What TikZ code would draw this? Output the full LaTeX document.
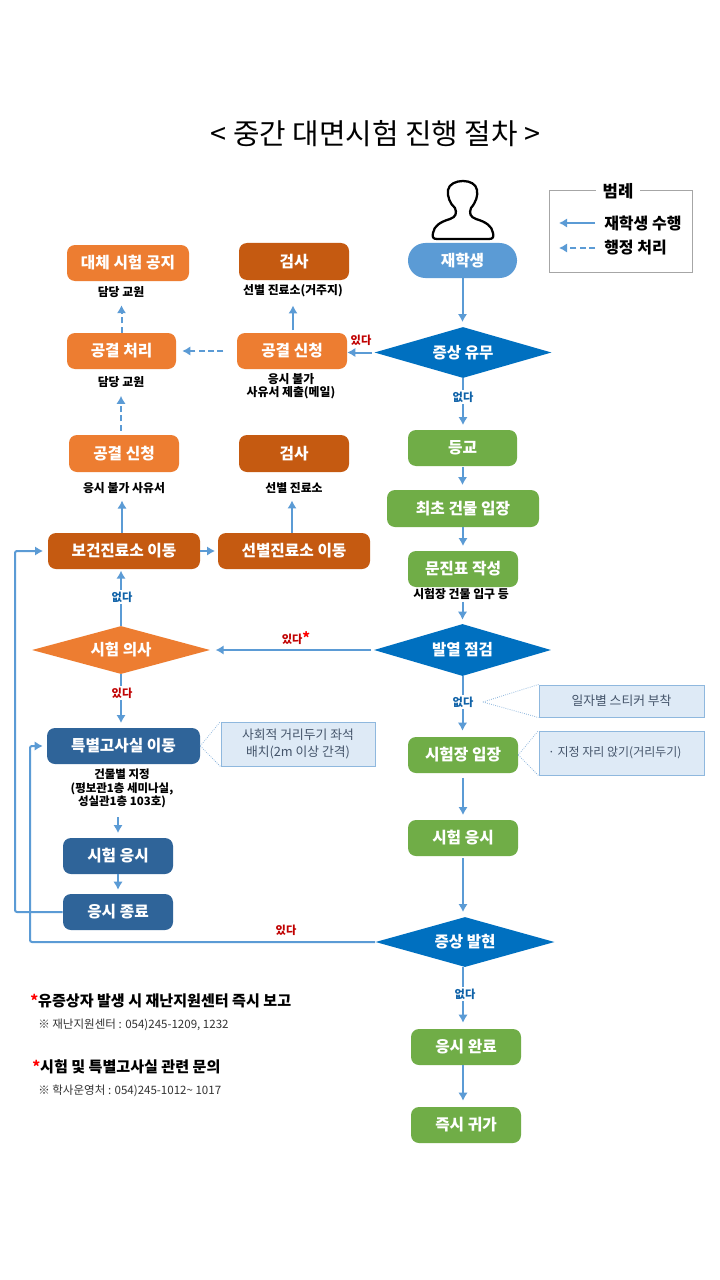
\documentclass[tikz,border=0pt]{standalone}
\usepackage{fontspec}
\setmainfont{Noto Sans CJK KR}
\usetikzlibrary{arrows.meta,shapes.geometric,calc}
\definecolor{ln}{HTML}{5B9BD5}
\definecolor{pill}{HTML}{5B9BD5}
\definecolor{dblue}{HTML}{0070C0}
\definecolor{grn}{HTML}{70AD47}
\definecolor{org}{HTML}{ED7D31}
\definecolor{brn}{HTML}{C55A11}
\definecolor{nvy}{HTML}{2F6499}
\definecolor{notefill}{HTML}{DEEAF6}
\definecolor{noteline}{HTML}{8FB8DE}
\definecolor{notetext}{HTML}{44546A}
\definecolor{yesred}{HTML}{C00000}
\definecolor{noblue}{HTML}{0F62A8}
\tikzset{
  x=0.75pt,y=-0.75pt,
  wh/.style 2 args={minimum width=#1*0.75pt,minimum height=#2*0.75pt},
  flowbox/.style={rounded corners=6pt,inner sep=0pt,text=white,font=\fontsize{11.8pt}{14pt}\selectfont\bfseries},
  gbox/.style={flowbox,fill=grn},
  obox/.style={flowbox,fill=org},
  bbox/.style={flowbox,fill=brn},
  nbox/.style={flowbox,fill=nvy},
  dia/.style={diamond,inner sep=0pt,text=white,font=\fontsize{11.7pt}{14pt}\selectfont\bfseries},
  captext/.style={inner sep=0pt,align=center,font=\fontsize{8.9pt}{10pt}\selectfont\bfseries},
  yeslab/.style={inner sep=1pt,fill=white,text=yesred,font=\fontsize{8.4pt}{10pt}\selectfont\bfseries},
  nolab/.style={inner sep=1pt,fill=white,text=noblue,font=\fontsize{8.4pt}{10pt}\selectfont\bfseries},
  notebox/.style={draw=noteline,fill=notefill,line width=0.75pt,inner sep=0pt,align=center,text=notetext,font=\fontsize{9.6pt}{12.5pt}\selectfont},
  arr/.style={draw=ln,line width=1.5pt,-{Latex[length=6pt,width=7pt]}},
  dsh/.style={arr,dash pattern=on 4.5pt off 2.5pt},
  callline/.style={draw=noteline,line width=0.6pt,densely dotted},
}
\begin{document}
\begin{tikzpicture}
\useasboundingbox (0,0) rectangle (720,1280);
\fill[white] (0,0) rectangle (720,1280);

% title
\node[inner sep=0pt,font=\fontsize{21.6pt}{25pt}\selectfont] (title) at (375.5,134) {< 중간 대면시험 진행 절차 >};

% legend
\node[draw=black!35,line width=0.75pt,minimum width=107.25pt,minimum height=60.75pt,inner sep=0pt] (legend) at (620.5,231.5) {};
\node[fill=white,inner xsep=5pt,inner ysep=0pt,font=\fontsize{12.5pt}{14pt}\selectfont\bfseries] (legendt) at (618,191) {범례};
\node[inner sep=0pt,anchor=west,font=\fontsize{12pt}{13pt}\selectfont\bfseries] (legenda) at (604,223) {재학생 수행};
\node[inner sep=0pt,anchor=west,font=\fontsize{12pt}{13pt}\selectfont\bfseries] (legendb) at (604,248) {행정 처리};
\draw[arr] ([xshift=-6.75pt]legenda.west) -- ([xshift=-33.75pt]legenda.west);
\draw[dsh] ([xshift=-6.75pt]legendb.west) -- ([xshift=-33.75pt]legendb.west);

% person
\path[draw=black,line width=1.7pt,fill=white,line join=round] (437,239) -- (489,239)
  .. controls (493,239) and (494,237) .. (493,233)
  .. controls (492,226) and (486,222) .. (476,219)
  .. controls (470,217) and (469,213) .. (471,208)
  .. controls (476,202) and (478,196) .. (477,190)
  .. controls (476,184) and (470,181) .. (463,181)
  .. controls (456,181) and (449,184) .. (448,190)
  .. controls (447,196) and (450,204) .. (455,208)
  .. controls (457,213) and (456,217) .. (450,219)
  .. controls (440,222) and (434,226) .. (433,233)
  .. controls (432,237) and (433,239) .. (437,239) -- cycle;

% right column
\node[wh={109}{35},rounded corners=13pt,fill=pill,inner sep=0pt,text=white,font=\fontsize{11.8pt}{14pt}\selectfont\bfseries] (student) at (462.5,260.5) {재학생};
\node[dia,fill=dblue,wh={177}{51},shape aspect=3.47] (symptom) at (463,352.5) {증상 유무};
\node[gbox,wh={109}{36}] (school) at (462.5,448) {등교};
\node[gbox,wh={152}{37}] (enter) at (463,508.5) {최초 건물 입장};
\node[gbox,wh={110}{36}] (form) at (463,569) {문진표 작성};
\node[dia,fill=dblue,wh={177}{52},shape aspect=3.4] (fever) at (462.5,650) {발열 점검};
\node[gbox,wh={110}{36}] (room) at (463,755) {시험장 입장};
\node[gbox,wh={110}{36}] (exam) at (463,838) {시험 응시};
\node[dia,fill=dblue,wh={179}{50},shape aspect=3.58] (onset) at (465,942) {증상 발현};
\node[gbox,wh={110}{36}] (done) at (466,1047) {응시 완료};
\node[gbox,wh={110}{36}] (home) at (466,1125) {즉시 귀가};

% upper left
\node[obox,wh={122}{36}] (alt) at (128,263) {대체 시험 공지};
\node[bbox,wh={110}{37}] (testa) at (294,261.5) {검사};
\node[obox,wh={109}{36}] (proc) at (121.5,351) {공결 처리};
\node[obox,wh={110}{36}] (appa) at (292,351) {공결 신청};
\node[obox,wh={110}{37}] (appb) at (124,453.5) {공결 신청};
\node[bbox,wh={110}{37}] (testb) at (294,453.5) {검사};
\node[bbox,wh={152}{36}] (clinic) at (124,551) {보건진료소 이동};
\node[bbox,wh={152}{36}] (screen) at (294,551) {선별진료소 이동};
\node[dia,fill=org,wh={178}{48},shape aspect=3.7] (will) at (121,650) {시험 의사};
\node[nbox,wh={153}{36}] (special) at (123.5,746) {특별고사실 이동};
\node[nbox,wh={110}{36}] (sexam) at (118,856) {시험 응시};
\node[nbox,wh={110}{36}] (send) at (118,912) {응시 종료};

% notes
\node[notebox,wh={154}{44}] (notea) at (298,744) {사회적 거리두기 좌석\\배치(2m 이상 간격)};
\node[notebox,wh={165}{32}] (noteb) at (621.5,701) {일자별 스티커 부착};
\node[notebox,wh={165}{44},font=\fontsize{9pt}{12.5pt}\selectfont] (notec) at (621.5,753) {· 지정 자리 앉기(거리두기)\hspace*{10pt}};

% captions
\node[captext] (capa) at (121,292) {담당 교원};
\node[captext] (capb) at (293,291) {선별 진료소(거주지)};
\node[captext,font=\fontsize{8.9pt}{9.8pt}\selectfont\bfseries] (capc) at (291,386.5) {응시 불가\\사유서 제출(메일)};
\node[captext] (capd) at (121,382) {담당 교원};
\node[captext] (cape) at (124,488) {응시 불가 사유서};
\node[captext] (capf) at (294,488) {선별 진료소};
\node[captext] (capg) at (461,594) {시험장 건물 입구 등};
\node[captext,font=\fontsize{8.6pt}{10pt}\selectfont\bfseries] (caph) at (122,788.5) {건물별 지정\\(평보관1층 세미나실,\\성실관1층 103호)};

% connectors
\draw[arr,shorten >=3.5pt] (student) -- (symptom.north -| student);
\draw[arr,shorten >=3.5pt] (symptom.south) -- (school.north -| symptom.south);
\draw[arr,shorten <=0.75pt,shorten >=3.5pt] (school) -- (enter.north -| school);
\draw[arr,shorten >=3.5pt] (enter) -- (form.north -| enter);
\draw[arr,shorten <=1.5pt,shorten >=3pt] (capg.south -| fever) -- (fever.north);
\draw[arr,shorten >=4.5pt] (fever) -- (room.north -| fever);
\draw[arr,shorten <=3.5pt,shorten >=3.5pt] (room) -- (exam.north -| room);
\draw[arr,shorten <=1.5pt,shorten >=3.5pt] (exam) -- (onset.north -| exam);
\draw[arr,shorten >=4.5pt] ([xshift=-2.25pt]onset.south -| done) -- ([xshift=-2.25pt]done.north);
\draw[arr,shorten >=4.5pt] ([xshift=-2.25pt]done.south) -- ([xshift=-2.25pt]home.north);

\draw[arr,shorten <=2pt] (symptom.west) -- (appa.east |- symptom.west);
\draw[dsh,shorten <=10pt,shorten >=4.5pt] (appa.west) -- (proc.east);
\draw[arr,shorten <=2pt,shorten >=6pt] (appa.north -| capb) -- (capb.south);
\draw[dsh,shorten >=5.5pt] (proc.north) -- (capa.south -| proc.north);
\draw[dsh,shorten <=3pt,shorten >=6pt] (appb.north -| capd) -- (capd.south);
\draw[arr,shorten >=5pt] ([xshift=-1.5pt]clinic.north) -- ([xshift=-1.5pt]cape.south);
\draw[arr,shorten >=5pt] ([xshift=-1.5pt]screen.north) -- ([xshift=-1.5pt]capf.south);
\draw[arr,shorten >=2pt] (clinic.east) -- (screen.west);
\draw[arr,shorten >=1pt] (will.north) -- (clinic.south -| will.north);
\draw[arr,shorten >=3.5pt] (will.south) -- (special.north -| will.south);
\draw[arr,shorten <=2pt,shorten >=4pt] (fever.west) -- (will.east);
\draw[arr,shorten >=3.5pt] (caph.south -| sexam) ++(0,9) -- (sexam.north);
\draw[arr,shorten >=3pt] (sexam) -- (send);
\draw[arr,rounded corners=1.5pt,shorten >=3.5pt] (send.west) -- (15,912) -- (15,551) -- (clinic.west);
\draw[arr,rounded corners=1.5pt,shorten >=3pt] (onset.west) -- (30,942) -- (30,746) -- (special.west);

% callouts
\draw[callline] (special.east) -- (notea.north west);
\draw[callline] (special.east) -- (notea.south west);
\draw[callline] (room.east) -- (notec.north west);
\draw[callline] (room.east) -- (notec.south west);

% branch labels
\node[yeslab,fill=none] (la) at (361,340) {있다};
\node[nolab] (lb) at (463,397) {없다};
\node[nolab] (lc) at (463,702) {없다};
\node[nolab] (ld) at (465,994) {없다};
\node[nolab] (le) at (122,597) {없다};
\node[yeslab] (lf) at (122,693) {있다};
\node[yeslab,fill=none] (lg) at (296,638) {있다\textcolor{red}{\fontsize{11pt}{11pt}\selectfont *}};
\node[yeslab,fill=none] (lh) at (286,930) {있다};
\draw[callline] ([xshift=6pt]lc.east) -- (noteb.north west);
\draw[callline] ([xshift=6pt]lc.east) -- (noteb.south west);

% footnotes
\node[inner sep=0pt,anchor=west,font=\fontsize{11.3pt}{13pt}\selectfont\bfseries] (fa) at (30,1001) {\textcolor{red}{*}유증상자 발생 시 재난지원센터 즉시 보고};
\node[inner sep=0pt,anchor=west,text=black!80,font=\fontsize{8.65pt}{11pt}\selectfont] (fb) at (38,1025) {※ 재난지원센터 : 054)245-1209, 1232};
\node[inner sep=0pt,anchor=west,font=\fontsize{11.3pt}{13pt}\selectfont\bfseries] (fc) at (32,1067) {\textcolor{red}{*}시험 및 특별고사실 관련 문의};
\node[inner sep=0pt,anchor=west,text=black!80,font=\fontsize{8.65pt}{11pt}\selectfont] (fd) at (38,1091) {※ 학사운영처 : 054)245-1012\textasciitilde{} 1017};
\end{tikzpicture}
\end{document}
